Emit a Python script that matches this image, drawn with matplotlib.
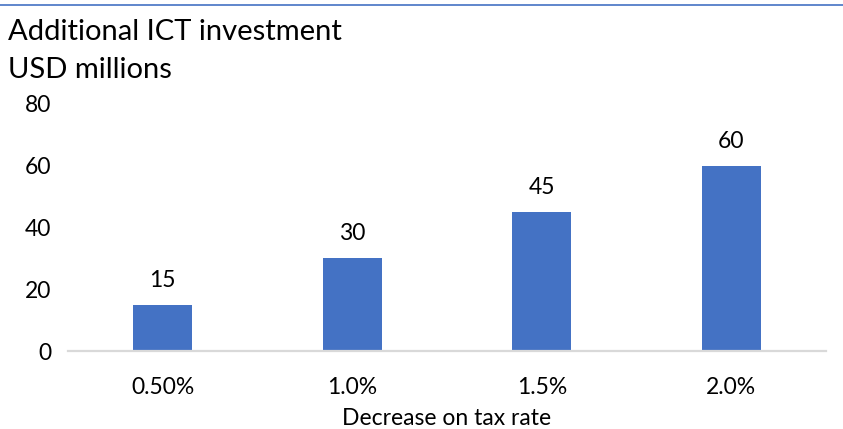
import matplotlib
matplotlib.use("Agg")
import matplotlib.pyplot as plt

rates = ["0.50%", "1.0%", "1.5%", "2.0%"]
investment = [15, 30, 45, 60]
y_ticks = [0, 20, 40, 60, 80]

plt.rcParams['font.family'] = ['Lato', 'DejaVu Sans']

fig = plt.figure(figsize=(8.43, 4.29), dpi=100)
ax = fig.add_axes([68 / 843, 1 - 351 / 429, 758 / 843, (351 - 104) / 429])

pos = list(range(len(rates)))
ax.bar(pos, investment, width=0.31, color="#4472C4", zorder=2)
for x, v in zip(pos, investment):
    ax.annotate(str(v), (x, v), xytext=(0, 10), textcoords="offset points",
                ha="center", va="bottom", fontsize=16.5, color="black")

ax.set_xlim(-0.5, len(rates) - 0.5)
ax.set_ylim(0, 80)
ax.set_yticks(y_ticks)
ax.set_xticks(pos)
ax.set_xticklabels(rates)
ax.tick_params(axis="both", length=0, labelsize=16.5, colors="black")
ax.tick_params(axis="x", pad=19)
ax.tick_params(axis="y", pad=12)

for side in ["top", "right", "left"]:
    ax.spines[side].set_visible(False)
ax.spines["bottom"].set_color("#D9D9D9")
ax.spines["bottom"].set_linewidth(1.6)

ax.set_xlabel("Decrease on tax rate", fontsize=16.5, labelpad=7)

fig.text(8 / 843, 1 - 32 / 429, "Additional ICT investment", fontsize=21,
         va="center", ha="left")
fig.text(8 / 843, 1 - 70 / 429, "USD millions", fontsize=21,
         va="center", ha="left")

# thin rule across the top
fig.add_artist(plt.Line2D([0, 1], [1 - 5 / 429, 1 - 5 / 429],
                          color="#4472C4", linewidth=1.2,
                          transform=fig.transFigure))

fig.savefig("out.png", dpi=100)
